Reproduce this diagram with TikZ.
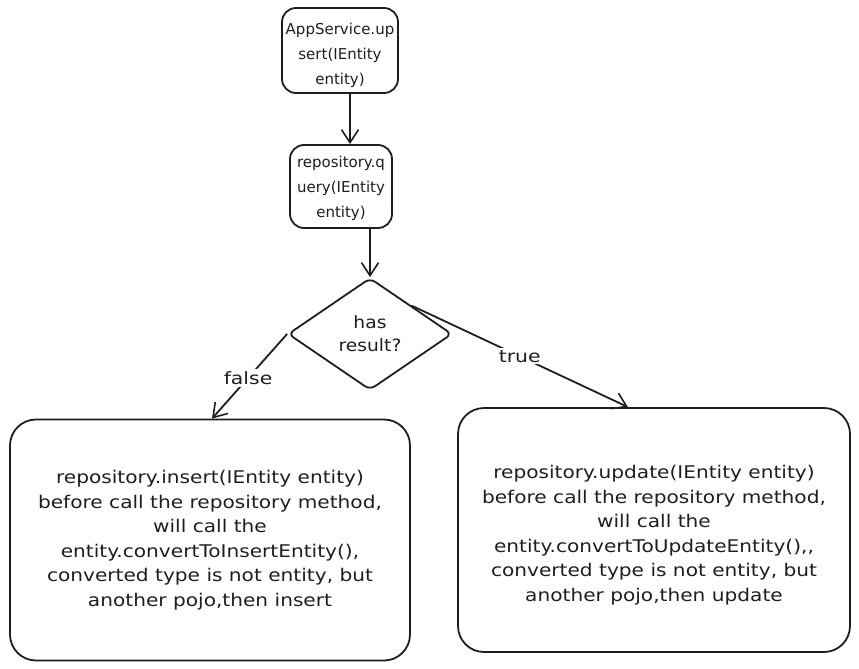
\documentclass[tikz,border=0pt]{standalone}
\usepackage{fontspec}
\setmainfont{DejaVu Sans}
\newfontfamily\handA[FakeStretch=1.10]{DejaVu Sans}
\newfontfamily\handB[FakeStretch=1.15]{DejaVu Sans}
\newfontfamily\handC[FakeStretch=1.20]{DejaVu Sans}
\usetikzlibrary{shapes.geometric,arrows.meta}
\definecolor{ink}{HTML}{1E1E1E}
\begin{document}
\begin{tikzpicture}[x=1pt,y=-1pt,
  every node/.style={text=ink},
  smallbox/.style={draw=ink,line width=1.8pt,rounded corners=14pt,align=center,inner sep=0pt,
     font=\fontsize{15}{25}\selectfont},
  bigbox/.style={draw=ink,line width=1.8pt,rounded corners=26pt,align=center,inner sep=0pt,
     font=\handB\fontsize{17.5}{24.5}\selectfont},
  decision/.style={draw=ink,line width=1.8pt,diamond,rounded corners=6pt,align=center,inner sep=0pt,
     font=\handA\fontsize{17}{23}\selectfont},
  flow/.style={draw=ink,line width=1.8pt,-{Straight Barb[length=13pt,width=17pt,line width=1.6pt]}},
  lbl/.style={fill=white,inner sep=2pt,font=\handC\fontsize{17}{18}\selectfont}
]
\useasboundingbox (0,0) rectangle (859,669);

\node[smallbox,minimum width=116pt,minimum height=85pt] (app) at (340,50.5)
  {\rule{0pt}{21pt}AppService.up\\sert(IEntity\\entity)};
\node[smallbox,minimum width=102pt,minimum height=83pt] (query) at (341,186.5)
  {\rule{0pt}{16pt}repository.q\\uery(IEntity\\entity)};
\node[decision,minimum width=164pt,minimum height=112pt] (dia) at (370,334)
  {has\\result?};
\node[bigbox,minimum width=400pt,minimum height=241pt] (left) at (210,540)
  {repository.insert(IEntity entity)\\before call the repository method,\\will call the\\entity.convertToInsertEntity(),\\converted type is not entity, but\\another pojo,then insert};
\node[bigbox,minimum width=392pt,minimum height=244pt] (right) at (654,530)
  {\rule{0pt}{24pt}repository.update(IEntity entity)\\before call the repository method,\\will call the\\entity.convertToUpdateEntity(),,\\converted type is not entity, but\\another pojo,then update};

\draw[flow] ([xshift=10pt]app.south) -- ([xshift=9pt]query.north);
\draw[flow] ([xshift=29pt]query.south) -- (dia.north);
\draw[flow] (dia.west) -- node[lbl,pos=0.52] {false} ([xshift=2pt]left.north);
\draw[flow] (dia.north east) -- node[lbl,pos=0.5] {true} ([xshift=-26pt]right.north);
\end{tikzpicture}
\end{document}
